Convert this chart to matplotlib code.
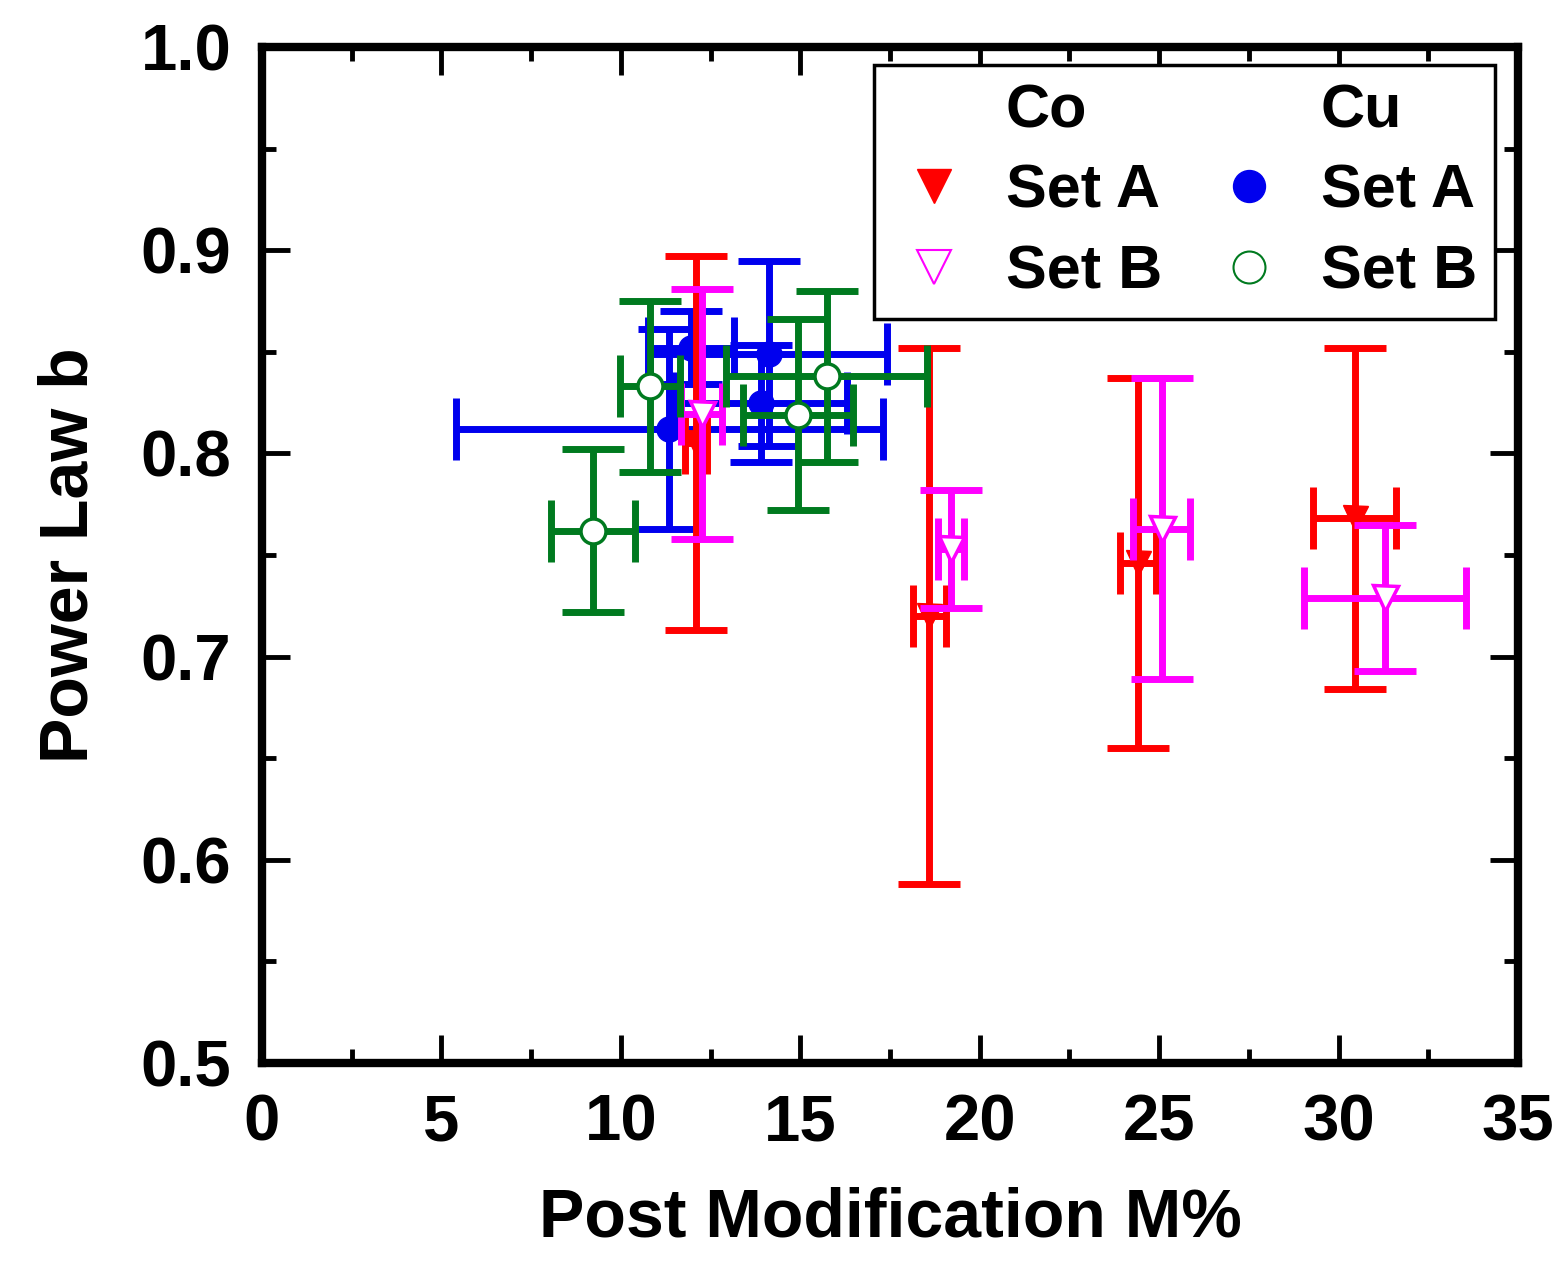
import matplotlib
matplotlib.use("Agg")
import matplotlib.pyplot as plt
from matplotlib.lines import Line2D
from matplotlib.ticker import MultipleLocator

plt.rcParams['font.family'] = ['Liberation Sans', 'DejaVu Sans']
plt.rcParams['font.weight'] = 'bold'

# Co, set A (filled red triangles)
co_a_x = [12.1, 18.6, 24.4, 30.45]
co_a_y = [0.805, 0.72, 0.746, 0.768]
co_a_xerr = [0.3, 0.45, 0.5, 1.15]
co_a_yerr = [0.092, 0.132, 0.091, 0.084]

# Co, set B (open magenta triangles)
co_b_x = [12.25, 19.2, 25.07, 31.3]
co_b_y = [0.8195, 0.753, 0.763, 0.729]
co_b_xerr = [0.58, 0.37, 0.8, 2.25]
co_b_yerr = [0.0615, 0.029, 0.074, 0.036]

# Cu, set A (filled blue circles)
cu_a_x = [11.35, 11.95, 14.12, 13.9]
cu_a_y = [0.812, 0.852, 0.849, 0.8246]
cu_a_xerr = [5.95, 1.2, 3.3, 2.4]
cu_a_yerr = [0.049, 0.018, 0.0456, 0.0286]

# Cu, set B (open green circles)
cu_b_x = [9.22, 10.81, 15.74, 14.93]
cu_b_y = [0.762, 0.833, 0.838, 0.819]
cu_b_xerr = [1.18, 0.84, 2.8, 1.53]
cu_b_yerr = [0.040, 0.042, 0.042, 0.047]

fig = plt.figure(figsize=(15.64, 12.66), dpi=100)
ax = fig.add_axes([0.1675, 0.1603, 0.8031, 0.8026])

common = dict(ls='none', elinewidth=5, capsize=22, capthick=5, markersize=18)

ax.errorbar(cu_a_x, cu_a_y, xerr=cu_a_xerr, yerr=cu_a_yerr, marker='o',
            color='#0000ee', mfc='#0000ee', mec='#0000ee', zorder=2, **common)
ax.errorbar(co_a_x, co_a_y, xerr=co_a_xerr, yerr=co_a_yerr, marker='v',
            color='#ff0000', mfc='#ff0000', mec='#ff0000', zorder=3, **common)
eb_b = ax.errorbar(co_b_x, co_b_y, xerr=co_b_xerr, yerr=co_b_yerr, marker='v',
                   color='#ff00ff', mfc='white', mec='#ff00ff', zorder=4, **common)
eb_b[0].set_markeredgewidth(2.5)
eb_g = ax.errorbar(cu_b_x, cu_b_y, xerr=cu_b_xerr, yerr=cu_b_yerr, marker='o',
                   color='#007a1f', mfc='white', mec='#007a1f', zorder=5, **common)
eb_g[0].set_markeredgewidth(2.5)

ax.set_xlim(0, 35)
ax.set_ylim(0.5, 1.0)
ax.xaxis.set_major_locator(MultipleLocator(5))
ax.xaxis.set_minor_locator(MultipleLocator(2.5))
ax.set_yticks([0.5, 0.6, 0.7, 0.8, 0.9, 1.0])
ax.set_yticklabels(['0.5', '0.6', '0.7', '0.8', '0.9', '1.0'])
ax.yaxis.set_minor_locator(MultipleLocator(0.05))

for s in ax.spines.values():
    s.set_linewidth(6)
ax.tick_params(which='both', direction='in', top=True, right=True, width=3.5,
               labelsize=47, pad=22)
ax.tick_params(which='major', length=20)
ax.tick_params(which='minor', length=10)
for lbl in ax.get_xticklabels() + ax.get_yticklabels():
    lbl.set_fontweight('bold')

ax.set_xlabel('Post Modification M%', fontsize=49, fontweight='bold', labelpad=24)
ax.set_ylabel('Power Law b', fontsize=49, fontweight='bold', labelpad=28)

# legend with a header per column
blank = Line2D([], [], ls='none', marker=None)
h_co_a = Line2D([], [], ls='none', marker='v', color='#ff0000', ms=25)
h_co_b = Line2D([], [], ls='none', marker='v', mfc='white', mec='#ff00ff', mew=1.5, ms=25)
h_cu_a = Line2D([], [], ls='none', marker='o', color='#0000ee', ms=23)
h_cu_b = Line2D([], [], ls='none', marker='o', mfc='white', mec='#007a1f', mew=1.5, ms=23)
leg = ax.legend([blank, h_co_a, h_co_b, blank, h_cu_a, h_cu_b],
                ['Co', 'Set A', 'Set B', 'Cu', 'Set A', 'Set B'],
                ncol=2, loc='upper right', bbox_to_anchor=(0.982, 0.982),
                prop={'size': 44, 'weight': 'bold'}, frameon=True, fancybox=False,
                edgecolor='black', framealpha=1, handlelength=1.35,
                handletextpad=0.5, columnspacing=0.75, labelspacing=0.38,
                borderpad=0.3, borderaxespad=0)
leg.get_frame().set_linewidth(2.5)

fig.savefig('out.png', dpi=100)
